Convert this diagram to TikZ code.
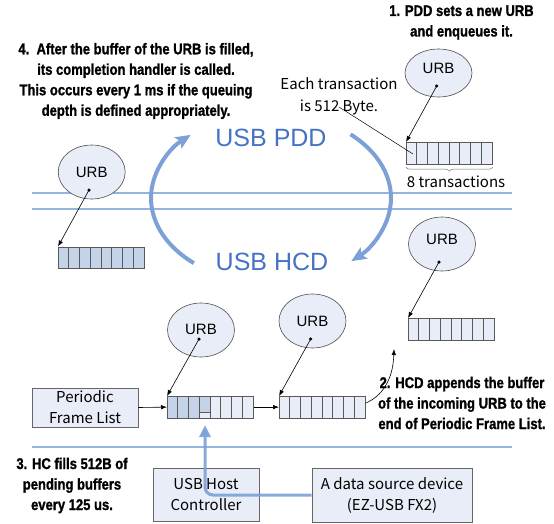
\documentclass[tikz,border=0pt]{standalone}
\usepackage{fontspec}
\setmainfont{Liberation Sans}
\newfontfamily\condfont{Liberation Sans}[FakeStretch=0.84,FakeBold=1.2]
\newfontfamily\jpfont{Noto Sans CJK JP}
\usetikzlibrary{shapes.geometric,arrows.meta,decorations.pathreplacing}
\definecolor{lightfill}{RGB}{233,237,247}
\definecolor{darkcell}{RGB}{197,211,232}
\definecolor{bluetext}{RGB}{68,114,196}
\definecolor{sepblue}{RGB}{150,180,225}
\definecolor{arcblue}{RGB}{125,160,215}
\newcommand\bufdividers[1]{%
  \foreach \i in {1,...,7}
    \draw[bufline] ([xshift=\i*10.75pt]#1.north west) -- ([xshift=\i*10.75pt]#1.south west);}
\begin{document}
\begin{tikzpicture}[x=1pt,y=-1pt,
  urb/.style={ellipse, draw=black!70, line width=0.6pt, fill=lightfill, minimum width=67pt, minimum height=52pt, inner sep=0pt},
  urbtext/.style={font=\fontsize{15}{15}\selectfont, inner sep=0pt},
  dot/.style={circle, fill=black, inner sep=0pt, minimum size=3.5pt},
  ptr/.style={-{Latex[length=6pt,width=4.5pt]}, line width=0.6pt, black},
  bufbox/.style={draw=black!65, line width=0.7pt, minimum width=86pt, minimum height=21.5pt, inner sep=0pt, anchor=north west},
  bufline/.style={draw=black!65, line width=0.7pt},
  box/.style={draw=black!60, line width=0.7pt, fill=lightfill, inner sep=0pt, align=center, font=\jpfont\fontsize{15}{21}\selectfont},
  note/.style={align=center, inner sep=0pt, font=\condfont\bfseries\fontsize{15.5}{20.5}\selectfont},
  jptext/.style={align=center, inner sep=0pt, font=\jpfont\fontsize{15}{22}\selectfont},
  sepline/.style={draw=sepblue, line width=1.5pt},
  bigarrow/.style={draw=arcblue, line width=4pt, -{Stealth[length=15pt,width=13pt,inset=3pt]}},
  hcarrow/.style={draw=arcblue, opacity=0.9, line width=3pt, rounded corners=8pt, -{Triangle[length=12pt,width=11pt]}},
  layer/.style={font=\fontsize{25}{25}\selectfont, text=bluetext, inner sep=0pt}
]
\useasboundingbox (0,0) rectangle (554,523);

% separator lines
\draw[sepline] (32,193) -- (512,193);
\draw[sepline] (32,209) -- (512,209);
\draw[sepline] (32,447) -- (512,447);

% layer labels and cycle arrows
\node[layer] (pdd) at (271,137.5) {USB PDD};
\node[layer] (hcd) at (272,262) {USB HCD};
\draw[bigarrow] (271,198) ++(230:120pt and 85pt) arc[start angle=230, end angle=132, x radius=120pt, y radius=85pt];
\draw[bigarrow] (271,198) ++(48.5:120pt and 85pt) arc[start angle=48.5, end angle=-48, x radius=120pt, y radius=85pt];

% notes
\node[note] (n4) at (136,81) {4.\ \ After the buffer of the URB is filled,\\its completion handler is called.\\This occurs every 1 ms if the queuing\\depth is defined appropriately.};
\node[note] (n1) at (461.5,22.5) {1. PDD sets a new URB\\and enqueues it.};
\node[note] (n2) at (462,403) {2. HCD appends the buffer\\of the incoming URB to the\\end of Periodic Frame List.};
\node[note] (n3) at (72,485.5) {3. HC fills 512B of\\pending buffers\\every 125 us.};

% top right: new URB
\node[urb, minimum height=48pt] (u1) at (438.5,73) {};
\node[urbtext] at ([yshift=4.5pt]u1.center) {URB};
\node[dot] (d1) at (436.7,86) {};
\node[bufbox, fill=lightfill] (b1) at (406,142) {};
\bufdividers{b1}
\draw[ptr] (d1.center) -- (b1.north west);
\draw[decorate, decoration={brace, mirror, amplitude=4pt}, draw=black!55, line width=0.5pt] ([yshift=-3pt]b1.south west) -- ([yshift=-3pt]b1.south east);
\node[jptext] (t8) at (456,181.5) {8 transactions};
\node[jptext] (each) at (339,96) {Each transaction\\is 512 Byte.};
\coordinate (lead) at (339,107);
\coordinate (cell1) at ([xshift=7pt,yshift=-12pt]b1.north west);
\draw[line width=0.5pt] (lead) -- (cell1);

% top left: completed URB
\node[urb, minimum height=54pt] (u2) at (91.7,172) {};
\node[urbtext] at ([yshift=0pt]u2.center) {URB};
\node[dot] (d2) at (89,190) {};
\node[bufbox, fill=darkcell] (b2) at (58,246.5) {};
\bufdividers{b2}
\draw[ptr] (d2.center) -- (b2.north west);

% right: incoming URB
\node[urb, minimum height=54pt] (u3) at (442,244) {};
\node[urbtext] at ([yshift=4.5pt]u3.center) {URB};
\node[dot] (d3) at (439,262) {};
\node[bufbox, fill=lightfill] (b3) at (408,318) {};
\bufdividers{b3}
\draw[ptr] (d3.center) -- (b3.north west);

% periodic frame list chain
\node[box, minimum width=106pt, minimum height=39pt] (pfl) at (85,407.5) {Periodic\\Frame List};
\node[bufbox, fill=lightfill] (b4) at (167,396) {};
\fill[darkcell] (b4.north west) rectangle ([xshift=32.25pt]b4.south west);
\fill[darkcell] ([xshift=32.25pt]b4.north west) rectangle ([xshift=43pt,yshift=5.5pt]b4.south west);
\draw[bufline] ([xshift=32.25pt,yshift=5.5pt]b4.south west) -- ([xshift=43pt,yshift=5.5pt]b4.south west);
\draw[bufline] (b4.north west) rectangle (b4.south east);
\bufdividers{b4}
\node[bufbox, fill=lightfill] (b5) at (279,396) {};
\bufdividers{b5}
\draw[ptr] (pfl.east) -- (b4.west);
\draw[ptr] (b4.east) -- (b5.west);

\node[urb, minimum height=54pt] (u5) at (201,330) {};
\node[urbtext] at ([yshift=1pt]u5.center) {URB};
\node[dot] (d5) at (199,339) {};
\draw[ptr] (d5.center) -- (b4.north west);

\node[urb, minimum height=54pt] (u4) at (312.5,321) {};
\node[urbtext] at ([yshift=0pt]u4.center) {URB};
\node[dot] (d4) at (310.7,339) {};
\draw[ptr] (d4.center) -- (b5.north west);

\coordinate (append) at (394,349);
\draw[ptr] ([yshift=4pt]b5.east) .. controls (382,396) and (393,380) .. (append);

% host controller and data source
\node[box, minimum width=106pt, minimum height=53pt] (hc) at (206,494.5) {USB Host\\Controller};
\node[box, minimum width=160pt, minimum height=54pt] (ds) at (392,495) {A data source device\\(EZ-USB FX2)};
\coordinate (filltip) at (205,425);
\draw[hcarrow] (ds.west) -| (filltip);
\end{tikzpicture}
\end{document}
